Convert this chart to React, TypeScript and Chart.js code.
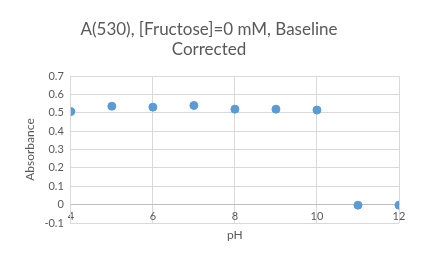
import React, { useEffect, useRef } from "react";
import { Chart, registerables } from "chart.js";

Chart.register(...registerables);

const pH = [4, 5, 6, 7, 8, 9, 10, 11, 12];
const absorbance = [0.507, 0.536, 0.531, 0.54, 0.52, 0.52, 0.515, -0.003, -0.003];
const titleLines = ["A(530), [Fructose]=0 mM, Baseline", "Corrected"];
const xTitle = "pH";
const yTitle = "Absorbance";

const FONT = "Lato, 'Open Sans', sans-serif";
const TEXT = "#595959";
const GRID = "#D9D9D9";

export default function App() {
  const ref = useRef<HTMLCanvasElement>(null);
  useEffect(() => {
    if (!ref.current) return;
    const chart = new Chart(ref.current, {
      type: "scatter",
      data: {
        datasets: [
          {
            data: pH.map((x, i) => ({ x, y: absorbance[i] })),
            backgroundColor: "#5B9BD5",
            borderColor: "#5B9BD5",
            pointRadius: 4,
            pointHoverRadius: 4,
          },
        ],
      },
      options: {
        animation: false,
        responsive: false,
        layout: { padding: { left: 19, right: 40, top: 8, bottom: 42 } },
        plugins: {
          legend: { display: false },
          tooltip: { enabled: false },
          title: {
            display: true,
            text: titleLines,
            color: TEXT,
            font: { family: FONT, size: 17, weight: "normal", lineHeight: 1.15 },
            padding: { top: 12, bottom: 17 },
          },
        },
        scales: {
          x: {
            type: "linear",
            position: { y: 0 } as any,
            min: 4,
            max: 12,
            ticks: {
              stepSize: 2,
              color: TEXT,
              font: { family: FONT, size: 11 },
              padding: 5,
            },
            grid: { color: GRID, drawTicks: false },
            border: { color: "#BFBFBF" },
            title: {
              display: true,
              text: xTitle,
              color: TEXT,
              font: { family: FONT, size: 12 },
              padding: { top: 0, bottom: 4 },
            },
          },
          y: {
            min: -0.1,
            max: 0.7,
            ticks: {
              stepSize: 0.1,
              color: TEXT,
              font: { family: FONT, size: 11 },
              padding: 7,
              callback: (v: any) => {
                const n = Math.round(Number(v) * 10) / 10;
                return n === 0 ? "0" : n.toFixed(1);
              },
            },
            grid: { color: GRID, drawTicks: false },
            border: { color: GRID },
            title: {
              display: true,
              text: yTitle,
              color: TEXT,
              font: { family: FONT, size: 12 },
              padding: { top: 4, bottom: 0 },
            },
          },
        },
      },
    });
    return () => chart.destroy();
  }, []);
  return (
    <div style={{ position: "fixed", left: 0, top: 0, width: 439, height: 265, background: "#fff" }}>
      <canvas ref={ref} width={439} height={265} style={{ width: 439, height: 265 }} />
    </div>
  );
}
